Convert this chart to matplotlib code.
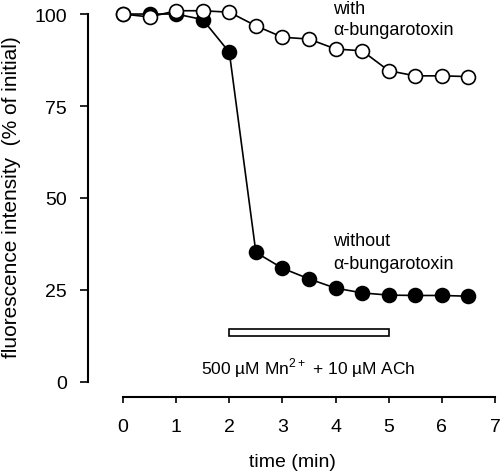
import numpy as np
import matplotlib.pyplot as plt
from matplotlib.patches import Rectangle

plt.rcParams['font.family'] = ['Liberation Sans', 'DejaVu Sans']

time_min = [0, 0.5, 1, 1.5, 2, 2.5, 3, 3.5, 4, 4.5, 5, 5.5, 6, 6.5]
with_btx = [100, 99.2, 100.9, 100.9, 100.5, 96.8, 93.7, 93.2, 90.5, 90.0, 84.6, 83.2, 83.2, 83.0]
without_btx = [100, 100, 100, 98.5, 89.6, 35.2, 30.9, 28.0, 25.5, 24.2, 23.6, 23.5, 23.5, 23.3]
x_ticks = [0, 1, 2, 3, 4, 5, 6, 7]
y_ticks = [0, 25, 50, 75, 100]
bar_start, bar_end = 2, 5

fig = plt.figure(figsize=(5.02, 4.77), dpi=100)
ax = fig.add_axes([0.1753, 0.1656, 0.816, 0.826])

ax.plot(time_min, without_btx, '-', color='black', lw=1.2, zorder=2)
ax.plot(time_min, without_btx, 'o', mfc='black', mec='black', ms=10, mew=1.2, zorder=3)
ax.plot(time_min, with_btx, '-', color='black', lw=1.2, zorder=4)
ax.plot(time_min, with_btx, 'o', mfc='white', mec='black', ms=10, mew=1.2, zorder=5)

ax.add_patch(Rectangle((bar_start, 12.5), bar_end - bar_start, 1.9,
                       facecolor='white', edgecolor='black', lw=1.2))
ax.text(3.48, 4, r'500 µM Mn$^{\mathregular{2+}}$ + 10 µM ACh', ha='center', va='center', fontsize=12.5)

ax.text(3.95, 101.6, 'with', ha='left', va='center', fontsize=13)
ax.text(3.95, 95.7, 'α-bungarotoxin', ha='left', va='center', fontsize=13)
ax.text(3.95, 38.4, 'without', ha='left', va='center', fontsize=13)
ax.text(3.95, 32.1, 'α-bungarotoxin', ha='left', va='center', fontsize=13)

ax.set_xlim(-0.66, 7.05)
ax.set_ylim(-4.1, 103)
ax.spines['top'].set_visible(False)
ax.spines['right'].set_visible(False)
ax.spines['left'].set_bounds(0, 100)
ax.spines['bottom'].set_bounds(0, 7)
ax.spines['left'].set_linewidth(1.5)
ax.spines['bottom'].set_linewidth(1.5)
ax.set_xticks(x_ticks)
ax.set_yticks(y_ticks)
ax.tick_params(labelsize=14, width=1.2)
ax.tick_params(axis='x', length=4, pad=11)
ax.tick_params(axis='y', length=6, pad=9)
ax.set_xlabel('time (min)', fontsize=14, labelpad=13)
ax.set_ylabel('fluorescence intensity  (% of initial)', fontsize=15)
ax.yaxis.set_label_coords(-0.163, 0.51)

fig.savefig('out.png', dpi=100)
